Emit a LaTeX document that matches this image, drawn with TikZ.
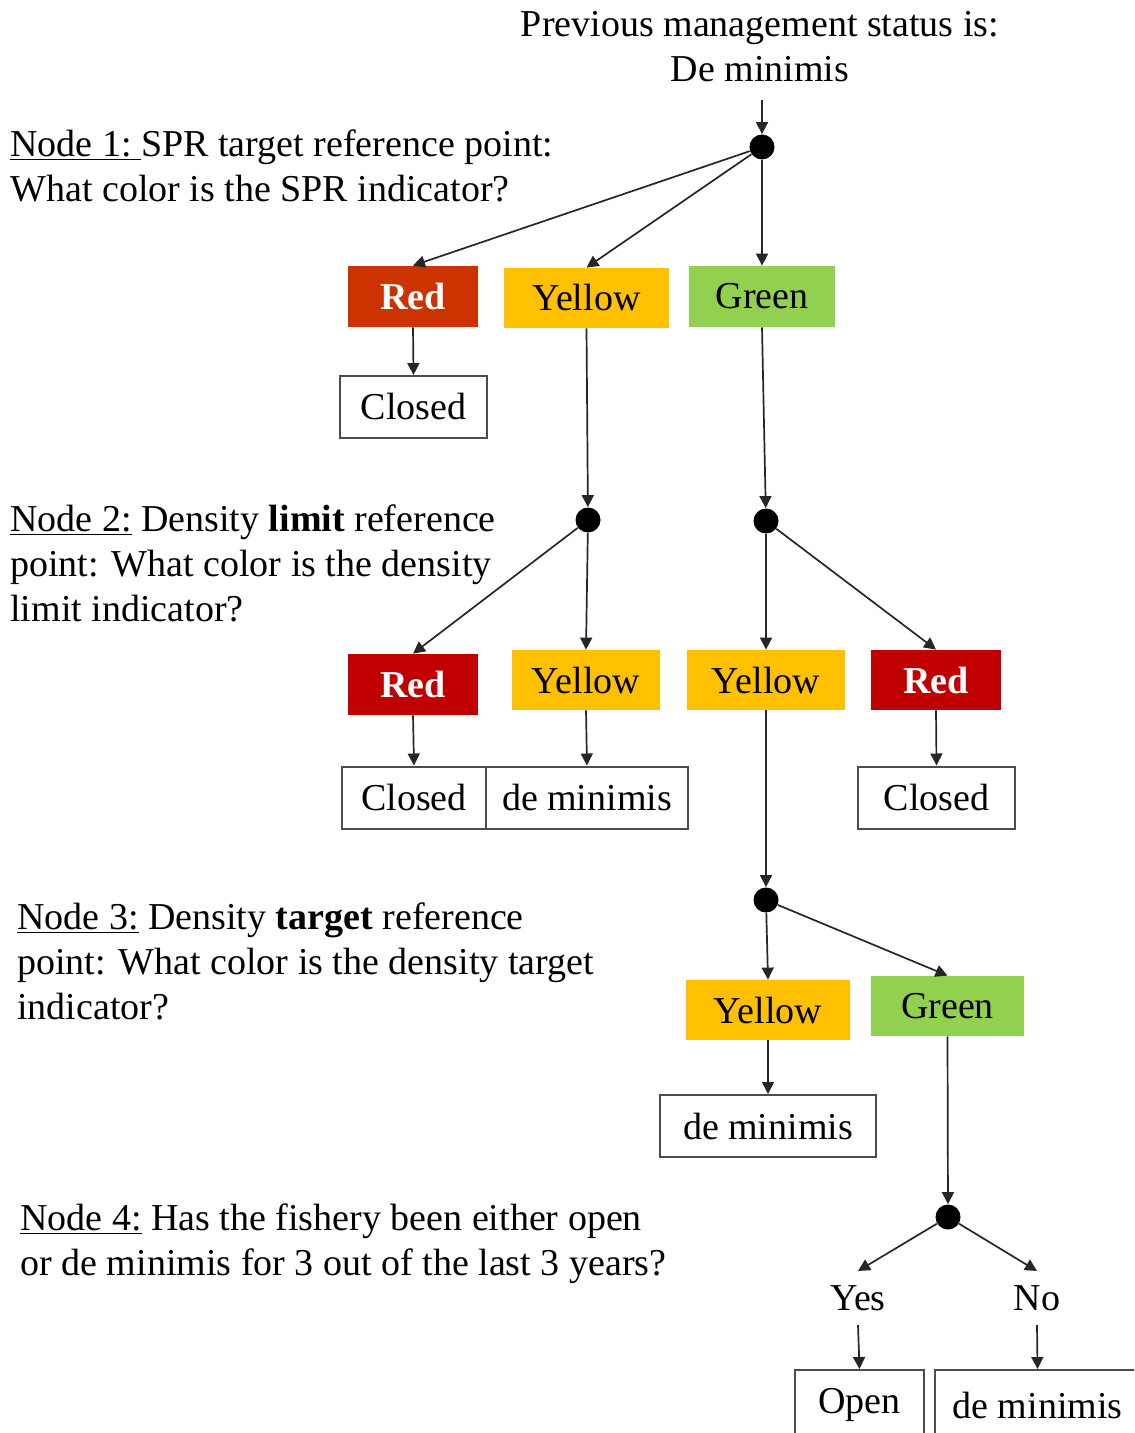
\documentclass[tikz,border=0pt]{standalone}
\usepackage{fontspec}
\setmainfont{Liberation Serif}
\usetikzlibrary{arrows.meta}
\definecolor{redA}{HTML}{CC3300}
\definecolor{redB}{HTML}{C00000}
\definecolor{yellowA}{HTML}{FFC000}
\definecolor{greenA}{HTML}{92D050}
\begin{document}
\begin{tikzpicture}[x=0.5pt, y=-0.5pt,
    every node/.style={font=\fontsize{19}{22.5}\selectfont},
    lbl/.style={anchor=north west, align=left, inner sep=0pt},
    dot/.style={circle, fill=black, inner sep=0pt, minimum size=12.5pt},
    colbox/.style={inner sep=0pt, minimum height=30.5pt},
    redbox/.style={colbox, fill=#1, text=white, font=\fontsize{19}{22.5}\selectfont\bfseries},
    yelbox/.style={colbox, fill=yellowA},
    grnbox/.style={colbox, fill=greenA},
    outbox/.style={draw=black!70, line width=1pt, inner sep=0pt, minimum height=31pt},
    arr/.style={-{Triangle[length=6pt,width=6pt]}, line width=0.85pt, black!85}]
        \clip (0,0) rectangle (1134,1433);
        % question texts
        \node[anchor=north, align=center, inner sep=0pt] (title) at (760,11) {Previous management status is:\\De minimis};
        \node[lbl] (q1) at (10,129) {\underline{Node 1:\ }SPR target reference point:\\What color is the SPR indicator?};
        \node[lbl] (q2) at (10,504) {\underline{Node 2:} Density \textbf{limit} reference\\point: What color is the density\\limit indicator?};
        \node[lbl] (q3) at (17,902) {\underline{Node 3:} Density \textbf{target} reference\\point: What color is the density target\\indicator?};
        \node[lbl] (q4) at (20,1203) {\underline{Node 4:} Has the fishery been either open\\or de minimis for 3 out of the last 3 years?};
        % decision points
        \coordinate (start) at (762,100);
        \node[dot] (d1) at (762,147) {};
        \node[dot] (d2a) at (588,520) {};
        \node[dot] (d2b) at (766,521) {};
        \node[dot] (d3) at (766,900) {};
        \node[dot] (d4) at (948,1217) {};
        % node 1
        \node[redbox=redA, minimum width=65pt] (r1) at (413,296.5) {Red};
        \node[yelbox, minimum width=82.5pt, minimum height=30pt] (y1) at (586.5,298) {Yellow};
        \node[grnbox, minimum width=73pt] (g1) at (762,296.5) {Green};
        \node[outbox, minimum width=73.5pt] (c1) at (413.5,407) {Closed};
        % node 2
        \node[redbox=redB, minimum width=65pt] (r2a) at (413,684.5) {Red};
        \node[yelbox, minimum width=74pt, minimum height=30pt] (y2a) at (586,680) {Yellow};
        \node[yelbox, minimum width=79pt, minimum height=30pt] (y2b) at (766,680) {Yellow};
        \node[redbox=redB, minimum width=65pt, minimum height=30pt] (r2b) at (936,680) {Red};
        \node[outbox, minimum width=72pt] (c2a) at (414,797.5) {Closed};
        \node[outbox, minimum width=101pt] (m2a) at (587,797.5) {de minimis};
        \node[outbox, minimum width=78.5pt] (c2b) at (936.5,797.5) {Closed};
        % node 3
        \node[yelbox, minimum width=82pt, minimum height=30pt] (y3) at (768,1010) {Yellow};
        \node[grnbox, minimum width=76.5pt, minimum height=30pt] (g3) at (947.5,1006) {Green};
        \node[outbox, minimum width=108pt] (m3) at (768,1126) {de minimis};
        % node 4
        \node[inner sep=7pt] (yes) at (858,1298) {Yes};
        \node[inner sep=7pt] (no) at (1037,1298) {No};
        \node[outbox, minimum width=64.5pt, minimum height=35pt] (op) at (859.5,1405) {Open};
        \node[outbox, minimum width=102.5pt, minimum height=35pt] (m4) at (1037.5,1405) {de minimis};
        % connectors
        \foreach \a/\b in {start/d1, d1/r1.north, d1/y1.north, d1/g1.north, r1.south/c1.north,
            y1.south/d2a, g1.south/d2b, d2a/r2a.north, d2a/y2a.north, d2b/y2b.north, d2b/r2b.north,
            r2a.south/c2a.north, y2a.south/m2a.north, r2b.south/c2b.north,
            y2b.south/d3, d3/y3.north, d3/g3.north, y3.south/m3.north,
            g3.south/d4, d4/yes.north, d4/no.north, yes.south/op.north, no.south/m4.north}{
            \draw[arr] (\a) -- (\b);
        }
\end{tikzpicture}
\end{document}
